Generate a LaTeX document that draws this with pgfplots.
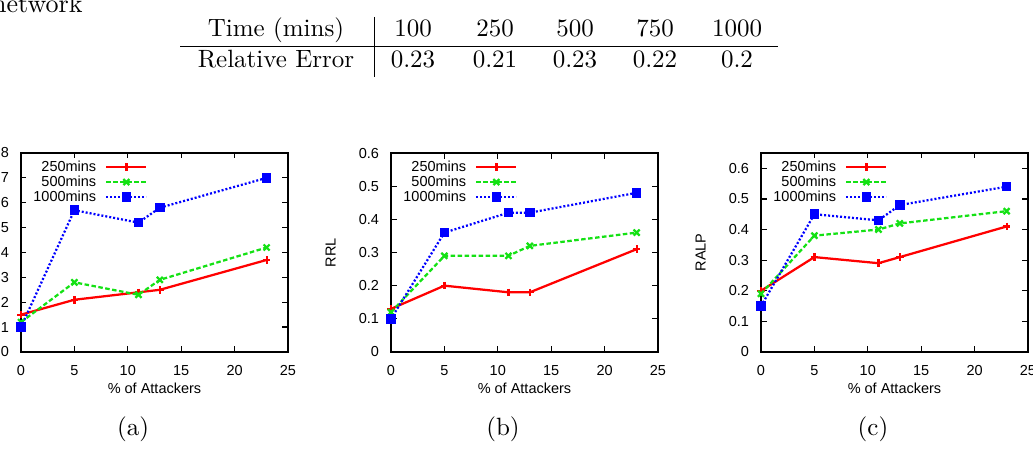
\documentclass[border=0pt]{standalone}
\usepackage{pgfplots}
\pgfplotsset{compat=1.18}
\usepackage{fontspec}
\setsansfont{Liberation Sans}

\definecolor{gpred}{RGB}{255,0,0}
\definecolor{gpgreen}{RGB}{20,225,20}
\definecolor{gpblue}{RGB}{0,0,255}

\newcommand{\gpfont}{\fontsize{5.8}{6.2}\selectfont\sffamily}

% gnuplot-like look for the three attacker plots
\pgfplotsset{
  gpaxis/.style={
    scale only axis,
    width=106.8pt, height=79.6pt,
    xmin=0, xmax=25,
    ymin=0,
    xtick={0,5,10,15,20,25},
    tick align=inside,
    major tick length=2.2pt,
    axis line style={line width=0.5pt},
    every tick/.style={black, line width=0.5pt},
    tick label style={font=\gpfont},
    /pgf/number format/assume math mode=true,
    yticklabel style={/pgf/number format/fixed, /pgf/number format/precision=1, xshift=-1.3pt},
    xticklabel style={yshift=-1.8pt},
    label style={font=\gpfont},
    xlabel={\% of Attackers},
    xlabel style={at={(axis description cs:0.5,-0.181)}, anchor=center},
    ylabel style={at={(axis description cs:-0.226,0.5)}, anchor=center},
    legend plot pos=right,
    legend cell align=right,
    legend style={draw=none, fill=none, font=\gpfont,
      at={(axis description cs:0.4757,0.854)}, anchor=east,
      inner sep=0pt, column sep=3.6pt, row sep=1pt,
      nodes={inner sep=0pt, text height=4.2pt, text depth=0.8pt}},
    legend image code/.code={\draw[mark repeat=2,mark phase=2,##1] plot coordinates {(0pt,0pt) (8pt,0pt) (16pt,0pt)};},
  },
  s250/.style={gpred, line width=0.9pt, mark=+, mark size=1.5pt, mark options={solid}},
  s500/.style={gpgreen, line width=0.9pt, dash pattern=on 1.8pt off 1.0pt, mark=x, mark size=1.7pt, mark options={solid}},
  s1000/.style={gpblue, line width=0.9pt, dash pattern=on 0.8pt off 0.8pt, mark=square*, mark size=1.45pt, mark options={solid}},
}

\begin{document}
\begin{tikzpicture}
\useasboundingbox (0,0) rectangle (413.2pt,-184.4pt);
\clip (0,0) rectangle (413.2pt,-184.4pt);

% tail of the caption line above the table
\node[anchor=base east, inner sep=0pt, font=\fontsize{10.4}{12}\selectfont] at (33.2pt,-5.2pt) {network};

% relative error table
\draw[line width=0.4pt] (72pt,-18.8pt) -- (311.2pt,-18.8pt);
\draw[line width=0.4pt] (149.6pt,-6.8pt) -- (149.6pt,-30.8pt);
\foreach \x/\t in {110.4/Time (mins), 165.2/100, 198/250, 230/500, 262/750, 294.8/1000}
  \node[anchor=base, inner sep=0pt] at (\x pt,-14.8pt) {\t};
\foreach \x/\t in {110.4/Relative Error, 165.2/0.23, 198/0.21, 230/0.23, 262/0.22, 294.8/0.2}
  \node[anchor=base, inner sep=0pt] at (\x pt,-27.2pt) {\t};

% (a)
\begin{axis}[gpaxis, at={(8.4pt,-140.8pt)}, anchor=south west,
  ymax=0.8, ytick={0,0.1,0.2,0.3,0.4,0.5,0.6,0.7,0.8}]
\addplot[s250] coordinates {(0,0.15) (5,0.21) (11,0.24) (13,0.25) (23,0.37)};
\addlegendentry{250mins}
\addplot[s500] coordinates {(0,0.12) (5,0.28) (11,0.23) (13,0.29) (23,0.42)};
\addlegendentry{500mins}
\addplot[s1000] coordinates {(0,0.10) (5,0.57) (11,0.52) (13,0.58) (23,0.70)};
\addlegendentry{1000mins}
\end{axis}

% (b)
\begin{axis}[gpaxis, at={(156.4pt,-140.8pt)}, anchor=south west,
  ymax=0.6, ytick={0,0.1,0.2,0.3,0.4,0.5,0.6}, ylabel={RRL}]
\addplot[s250] coordinates {(0,0.13) (5,0.20) (11,0.18) (13,0.18) (23,0.31)};
\addlegendentry{250mins}
\addplot[s500] coordinates {(0,0.12) (5,0.29) (11,0.29) (13,0.32) (23,0.36)};
\addlegendentry{500mins}
\addplot[s1000] coordinates {(0,0.10) (5,0.36) (11,0.42) (13,0.42) (23,0.48)};
\addlegendentry{1000mins}
\end{axis}

% (c)
\begin{axis}[gpaxis, at={(304.4pt,-140.8pt)}, anchor=south west,
  ymax=0.65, ytick={0,0.1,0.2,0.3,0.4,0.5,0.6}, ylabel={RALP}]
\addplot[s250] coordinates {(0,0.20) (5,0.31) (11,0.29) (13,0.31) (23,0.41)};
\addlegendentry{250mins}
\addplot[s500] coordinates {(0,0.19) (5,0.38) (11,0.40) (13,0.42) (23,0.46)};
\addlegendentry{500mins}
\addplot[s1000] coordinates {(0,0.15) (5,0.45) (11,0.43) (13,0.48) (23,0.54)};
\addlegendentry{1000mins}
\end{axis}

% sub-figure captions
\node[anchor=base, inner sep=0pt] at (53.2pt,-174.4pt) {(a)};
\node[anchor=base, inner sep=0pt] at (201.2pt,-174.4pt) {(b)};
\node[anchor=base, inner sep=0pt] at (349.2pt,-174.4pt) {(c)};
\end{tikzpicture}
\end{document}
